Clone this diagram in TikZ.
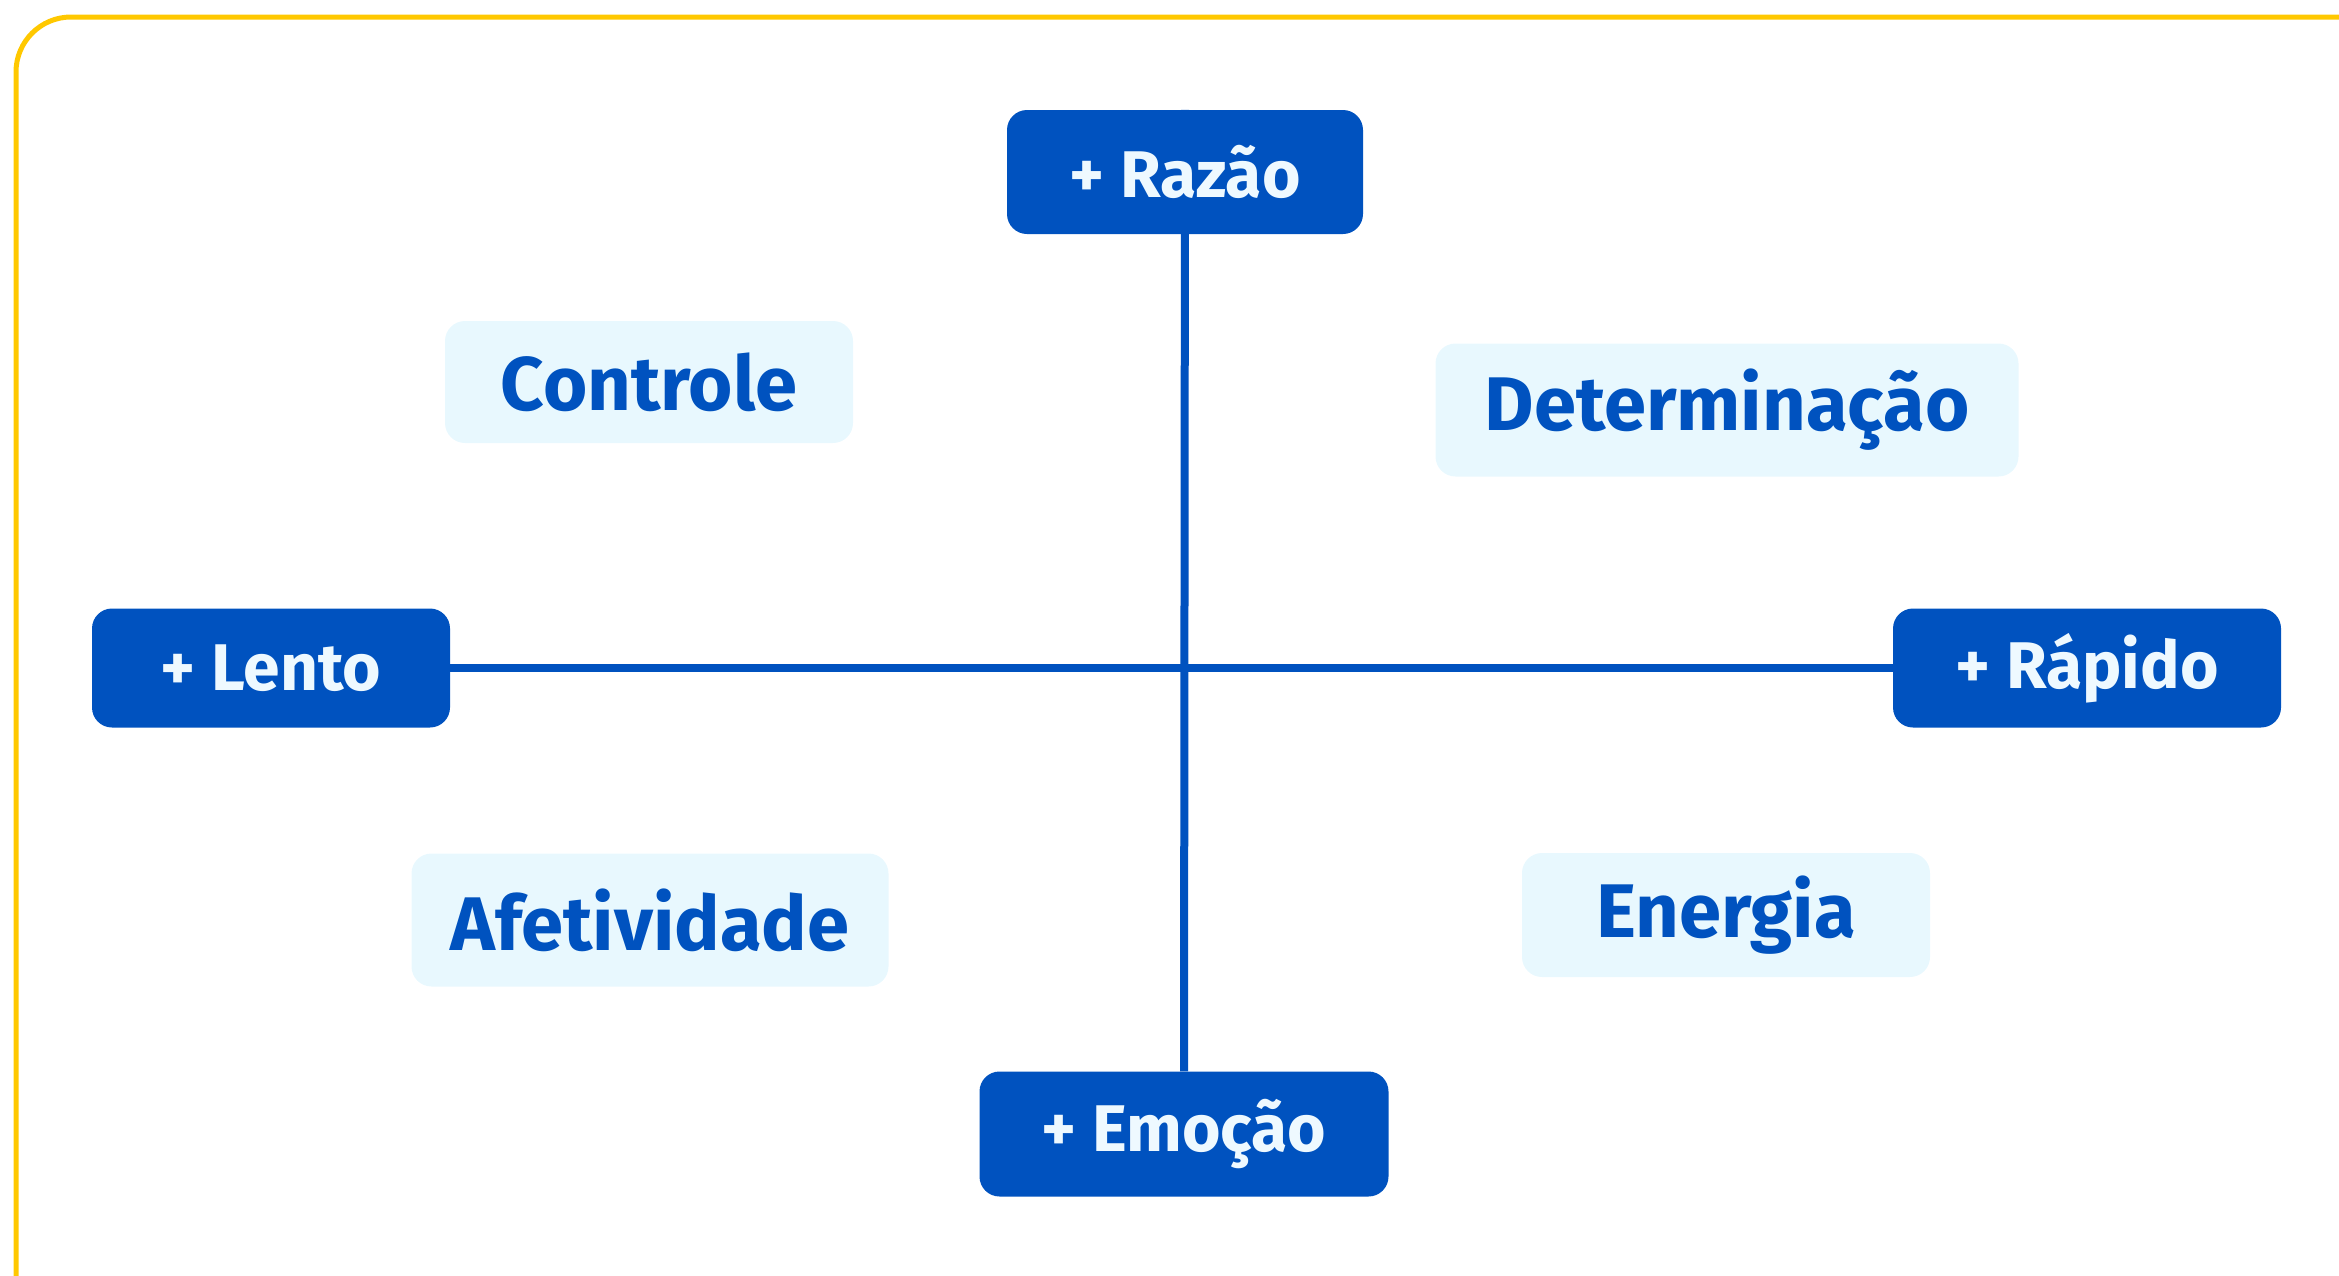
\documentclass[tikz,border=0pt]{standalone}
\usepackage{fontspec}
\setmainfont{Fira Sans}
\usetikzlibrary{backgrounds}
\definecolor{axisblue}{RGB}{0,82,191}
\definecolor{paleblue}{RGB}{232,248,254}
\definecolor{paletext}{RGB}{238,249,255}
\definecolor{framegold}{RGB}{255,200,0}
\tikzstyle{pole}=[fill=axisblue,text=paletext,rounded corners=20pt,font=\bfseries\fontsize{66}{80}\selectfont,inner sep=0pt]
\tikzstyle{quadrant}=[fill=paleblue,text=axisblue,rounded corners=20pt,font=\bfseries\fontsize{76}{90}\selectfont,inner sep=0pt]
\tikzstyle{axis}=[draw=axisblue,line width=8pt]

\begin{document}
\begin{tikzpicture}[x=1pt,y=-1pt]
	\useasboundingbox (0,0) rectangle (2339,1275);
	\draw[framegold,line width=5pt,rounded corners=55pt] (16,17) rectangle (2400,1340);
	% the four poles
	\node[pole,minimum width=356pt,minimum height=124pt] (razao) at (1185,172) {+ Razão};
	\node[pole,minimum width=409pt,minimum height=125pt] (emocao) at (1184,1134) {+ Emoção};
	\node[pole,minimum width=358pt,minimum height=119pt] (lento) at (271,668) {+ Lento};
	\node[pole,minimum width=388pt,minimum height=119pt] (rapido) at (2087,668) {+ Rápido};
	% the quadrants
	\node[quadrant,minimum width=408pt,minimum height=122pt] (controle) at (649,382) {Controle};
	\node[quadrant,minimum width=583pt,minimum height=133pt] (determinacao) at (1727,410) {Determinação};
	\node[quadrant,minimum width=477pt,minimum height=133pt] (afetividade) at (650,920) {Afetividade};
	\node[quadrant,minimum width=408pt,minimum height=124pt] (energia) at (1726,915) {Energia};
	\begin{scope}[on background layer]
		\draw[axis] (razao.north) -- (emocao.north);
		\draw[axis] (lento.east) -- (rapido.west);
	\end{scope}
\end{tikzpicture}
\end{document}
